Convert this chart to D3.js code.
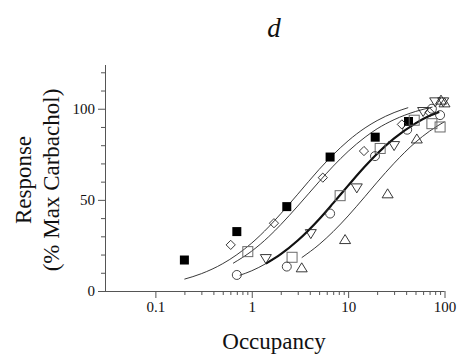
<!DOCTYPE html>
<html><head><meta charset="utf-8">
<script src="https://cdn.jsdelivr.net/npm/d3@7"></script>
<style>body{margin:0;background:#fff}svg{display:block}text{font-family:"Liberation Serif","Times New Roman",serif;fill:#111}</style>
</head><body>
<svg id="c" width="457" height="355"></svg>
<script>
// ---- data ----
const majorX = [0.1, 1, 10, 100];
const majorXLabels = ["0.1", "1", "10", "100"];
const minorX = [0.2,0.3,0.4,0.5,0.6,0.7,0.8,0.9,2,3,4,5,6,7,8,9,20,30,40,50,60,70,80,90];
const majorY = [0, 50, 100];
const minorY = [10,20,30,40,60,70,80,90,110,120];

const filledSqX = [0.2, 0.7, 2.31, 6.5, 19.1, 42.3];
const filledSqY = [17, 32.6, 46.3, 73.5, 84.4, 93];
const diamondX = [0.605, 1.70, 5.46, 14.6, 36.1, 70];
const diamondY = [25.3, 37.2, 62.2, 76.8, 91.4, 98];
const openSqX = [0.91, 2.62, 8.26, 21.5, 48.5, 74, 90];
const openSqY = [21.6, 18.5, 52.3, 78.2, 93.7, 91.8, 90];
const circleX = [0.70, 2.31, 6.5, 19, 41, 74, 90];
const circleY = [8.8, 13.4, 42.5, 74, 88.5, 100, 96.5];
const downTriX = [1.40, 4.1, 12.3, 30, 60, 80, 97];
const downTriY = [18, 31.7, 56.8, 80, 98.7, 104, 104];
const upTriX = [3.3, 9.3, 25.7, 51.6, 92, 100];
const upTriY = [12.5, 28, 53.1, 83.2, 104.5, 103];

// fitted curves
const curveAX = [0.2,0.3,0.5,0.7,1,1.5,2,3,5,7,10,15,20,30,42];
const curveAY = [6.5,9.5,15.0,19.9,26.3,35.2,42.4,53.1,66.7,74.8,82.4,89.5,93.5,97.9,100.6];
const curveBX = [0.64,1,1.5,2,3,5,7,10,15,20,30,50,75];
const curveBY = [15.2,21.9,29.8,36.4,46.6,60.0,68.5,76.6,84.4,89.0,94.0,98.5,100.9];
const curveCX = [0.75,1,1.4,2,3,5,7,10,15,20,30,50,70,88];
const curveCY = [8.6,11.1,15.0,20.2,27.7,39.4,48.2,57.8,68.4,75.3,83.7,92.0,96.1,98.3];
const curveCThickFrom = 1.4;
const curveDX = [3.3,5,7,10,15,20,30,50,70,100];
const curveDY = [18.3,25.5,32.6,41.2,51.9,59.7,70.1,81.6,87.7,92.9];

// ---- drawing ----
const svg = d3.select("#c");
const x = d3.scaleLog().domain([0.0293, 100]).range([104, 444.5]);
const y = d3.scaleLinear().domain([0, 124]).range([291, 65]);
const axisColor = "#555";

// x axis
const gx = svg.append("g").attr("transform", "translate(0,291)");
gx.call(d3.axisBottom(x).tickValues(majorX).tickSize(7).tickFormat((d,i) => majorXLabels[i]));
gx.append("g").call(d3.axisBottom(x).tickValues(minorX).tickSize(4).tickFormat(""));
gx.selectAll("path.domain").attr("stroke", axisColor);
gx.selectAll(".tick line").attr("stroke", axisColor);
gx.selectAll(".tick text").attr("font-size", 15).attr("font-family", "Liberation Serif").attr("fill", "#111").attr("dy", "0.95em").attr("y", 7);
gx.selectAll("g g path.domain").remove();
gx.selectAll("path.domain").attr("d", "M104.5,0.5H444.5");

// y axis
const gy = svg.append("g").attr("transform", "translate(105,0)");
gy.call(d3.axisLeft(y).tickValues(majorY).tickSize(7).tickFormat(d3.format("d")));
gy.append("g").call(d3.axisLeft(y).tickValues(minorY).tickSize(4).tickFormat(""));
gy.selectAll("g g path.domain").remove();
gy.selectAll("path.domain").attr("stroke", axisColor).attr("d", "M0.5,291.5V65");
gy.selectAll(".tick line").attr("stroke", axisColor);
gy.selectAll(".tick text").attr("font-size", 15).attr("font-family", "Liberation Serif").attr("fill", "#111").attr("x", -10);

// curves
const line = d3.line().x(d => x(d[0])).y(d => y(d[1])).curve(d3.curveMonotoneX);
const zip = (a, b) => a.map((v, i) => [v, b[i]]);
const curves = [[curveAX, curveAY], [curveBX, curveBY], [curveCX, curveCY], [curveDX, curveDY]];
curves.forEach(([cx, cy]) => {
  svg.append("path").datum(zip(cx, cy)).attr("d", line)
    .attr("fill", "none").attr("stroke", "#222").attr("stroke-width", 0.9);
});
svg.append("path").datum(zip(curveCX, curveCY).filter(d => d[0] >= curveCThickFrom)).attr("d", line)
  .attr("fill", "none").attr("stroke", "#111").attr("stroke-width", 2.2);

// markers
const pts = (a, b) => zip(a, b);
const g = svg.append("g");
g.selectAll(".fs").data(pts(filledSqX, filledSqY)).join("rect")
  .attr("x", d => x(d[0]) - 4.5).attr("y", d => y(d[1]) - 4.5).attr("width", 9).attr("height", 9)
  .attr("fill", "#000");
g.selectAll(".os").data(pts(openSqX, openSqY)).join("rect")
  .attr("x", d => x(d[0]) - 5).attr("y", d => y(d[1]) - 5).attr("width", 10).attr("height", 10)
  .attr("fill", "none").attr("stroke", "#6a6a6a").attr("stroke-width", 1);
g.selectAll(".di").data(pts(diamondX, diamondY)).join("path")
  .attr("d", d => { const cx = x(d[0]), cy = y(d[1]), r = 4.6; return `M${cx},${cy-r}L${cx+r},${cy}L${cx},${cy+r}L${cx-r},${cy}Z`; })
  .attr("fill", "none").attr("stroke", "#222").attr("stroke-width", 0.9);
g.selectAll(".ci").data(pts(circleX, circleY)).join("circle")
  .attr("cx", d => x(d[0])).attr("cy", d => y(d[1])).attr("r", 4.5)
  .attr("fill", "none").attr("stroke", "#333").attr("stroke-width", 0.9);
const tri = (cx, cy, up) => { const h = 9, w = 5.5; return up
  ? `M${cx},${cy-h*0.6}L${cx+w},${cy+h*0.4}L${cx-w},${cy+h*0.4}Z`
  : `M${cx},${cy+h*0.6}L${cx+w},${cy-h*0.4}L${cx-w},${cy-h*0.4}Z`; };
g.selectAll(".dt").data(pts(downTriX, downTriY)).join("path")
  .attr("d", d => tri(x(d[0]), y(d[1]), false))
  .attr("fill", "none").attr("stroke", "#222").attr("stroke-width", 0.9);
g.selectAll(".ut").data(pts(upTriX, upTriY)).join("path")
  .attr("d", d => tri(x(d[0]), y(d[1]), true))
  .attr("fill", "none").attr("stroke", "#222").attr("stroke-width", 0.9);

// titles
svg.append("text").attr("x", 274).attr("y", 37).attr("text-anchor", "middle")
  .attr("font-size", 27).attr("font-style", "italic").text("d");
svg.append("text").attr("x", 274).attr("y", 349).attr("text-anchor", "middle")
  .attr("font-size", 23).text("Occupancy");
svg.append("text").attr("transform", "translate(31,180) rotate(-90)").attr("text-anchor", "middle")
  .attr("font-size", 23).text("Response");
svg.append("text").attr("transform", "translate(59,180) rotate(-90)").attr("text-anchor", "middle")
  .attr("font-size", 23).text("(% Max Carbachol)");
</script>
</body></html>
